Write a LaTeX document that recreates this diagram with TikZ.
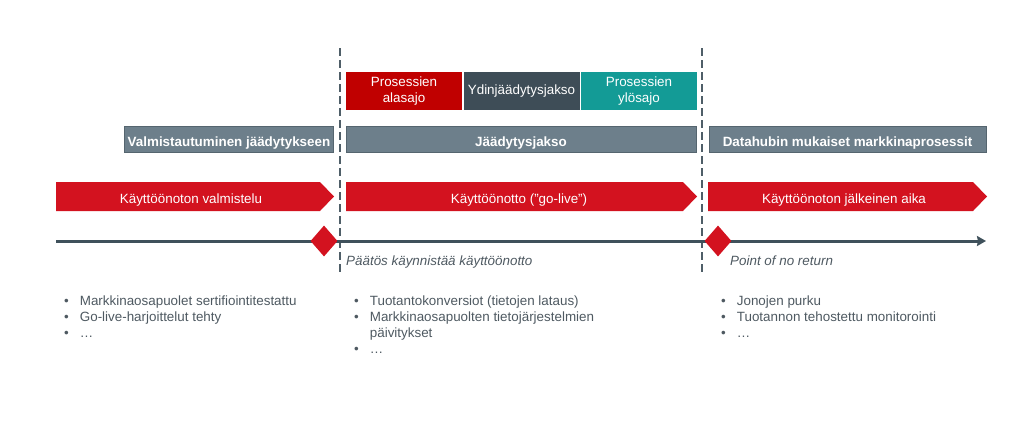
\documentclass[tikz,border=0pt]{standalone}
\usepackage{fontspec}
\setmainfont{Liberation Sans}
\usetikzlibrary{shapes.geometric,arrows.meta}
\definecolor{redA}{HTML}{D3121F}
\definecolor{redB}{HTML}{C00000}
\definecolor{darkbox}{HTML}{3E4D57}
\definecolor{tealbox}{HTML}{139B96}
\definecolor{graybar}{HTML}{6D7F8B}
\definecolor{graybord}{HTML}{55656F}
\definecolor{lineC}{HTML}{3F515B}
\definecolor{dashC}{HTML}{4F5E68}
\definecolor{txtC}{HTML}{4E5961}
\begin{document}
\begin{tikzpicture}[x=1pt,y=-1pt,
  mainfont/.style={font=\fontsize{13.4}{16}\selectfont},
  oneline/.style={text height=13pt, text depth=0pt},
  topbox/.style={mainfont, text=white, align=center, inner sep=0pt, outer sep=0pt,
    minimum width=116pt, minimum height=38pt},
  bar/.style={font=\fontsize{13.4}{16}\selectfont\bfseries, text=white, fill=graybar,
    draw=graybord, line width=1pt, inner sep=0pt, minimum height=26pt, oneline},
  chev/.style={fill=redA},
  chevtext/.style={mainfont, text=white, inner sep=0pt, oneline},
  vdash/.style={draw=dashC, line width=1.4pt, dash pattern=on 8pt off 4pt},
  milestone/.style={diamond, fill=redA, inner sep=0pt, minimum width=27pt, minimum height=31pt},
  note/.style={font=\fontsize{13.4}{16}\selectfont\itshape, text=txtC, anchor=base west, inner sep=0pt},
  blist/.style={font=\fontsize{13.4}{16}\selectfont, text=txtC, anchor=north west, inner sep=0pt}
]
\useasboundingbox (0,0) rectangle (1024,426);

% dashed separators
\coordinate (s1t) at (340,48); \coordinate (s1b) at (340,272);
\coordinate (s2t) at (702,48); \coordinate (s2b) at (702,272);
\draw[vdash] (s1t) -- (s1b);
\draw[vdash] (s2t) -- (s2b);

% top row boxes
\node[topbox, fill=redB] (alas) at (404,91) {Prosessien\\alasajo};
\node[topbox, fill=darkbox] (ydin) at (521.5,91) {Ydinjäädytysjakso};
\node[topbox, fill=tealbox] (ylos) at (639,91) {Prosessien\\ylösajo};

% gray bars
\node[bar, minimum width=209pt] (valm) at (229,139.5) {Valmistautuminen jäädytykseen};
\node[bar, minimum width=350pt] (jaad) at (521,139.5) {Jäädytysjakso};
\node[bar, minimum width=277pt] (data) at (847.5,139.5) {Datahubin mukaiset markkinaprosessit};

% chevrons
\fill[chev] (56,182) -- (320,182) -- (334,196.5) -- (320,211) -- (56,211) -- cycle;
\node[chevtext] (c1) at (191,196.5) {Käyttöönoton valmistelu};
\fill[chev] (346,182) -- (683,182) -- (697,196.5) -- (683,211) -- (346,211) -- cycle;
\node[chevtext] (c2) at (519,196.5) {Käyttöönotto ("go-live")};
\fill[chev] (708,182) -- (973,182) -- (987,196.5) -- (973,211) -- (708,211) -- cycle;
\node[chevtext] (c3) at (844,196.5) {Käyttöönoton jälkeinen aika};

% timeline
\coordinate (t0) at (56,241);
\coordinate (t1) at (986,241);
\draw[lineC, line width=3pt, -{Stealth[length=9pt,width=10pt,inset=1pt]}] (t0) -- (t1);
\node[milestone] (m1) at (324,241) {};
\node[milestone] (m2) at (718,241) {};

% milestone notes
\node[note] (n1) at (346,265) {Päätös käynnistää käyttöönotto};
\node[note] (n2) at (730,265) {Point of no return};

% bullet lists
\node[blist] (l1) at (64,294.5) {\begin{tabular}[t]{@{}l@{\hspace{11pt}}l@{}}
\textbullet & Markkinaosapuolet sertifiointitestattu\\
\textbullet & Go-live-harjoittelut tehty\\
\textbullet & …
\end{tabular}};
\node[blist] (l2) at (354,294.5) {\begin{tabular}[t]{@{}l@{\hspace{11pt}}l@{}}
\textbullet & Tuotantokonversiot (tietojen lataus)\\
\textbullet & Markkinaosapuolten tietojärjestelmien\\
 & päivitykset\\
\textbullet & …
\end{tabular}};
\node[blist] (l3) at (721,294.5) {\begin{tabular}[t]{@{}l@{\hspace{11pt}}l@{}}
\textbullet & Jonojen purku\\
\textbullet & Tuotannon tehostettu monitorointi\\
\textbullet & …
\end{tabular}};
\end{tikzpicture}
\end{document}
